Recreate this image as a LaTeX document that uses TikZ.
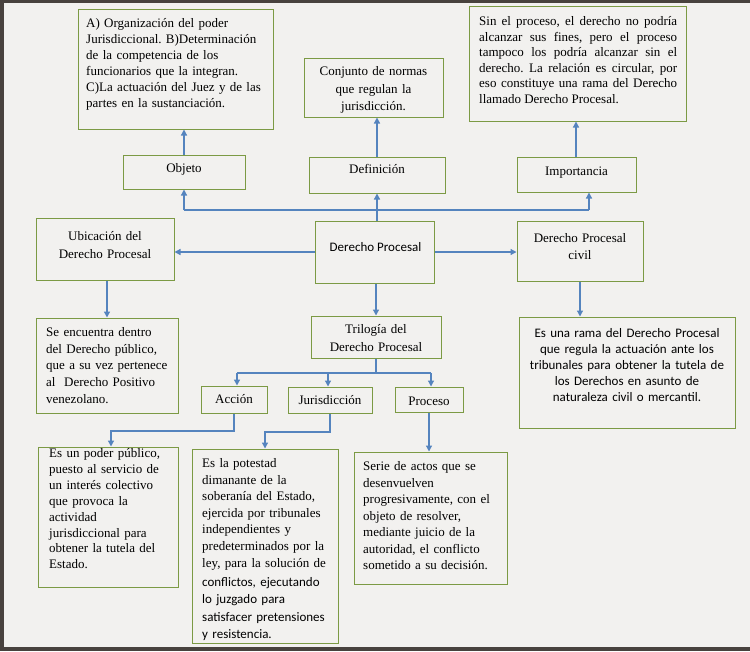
\documentclass[tikz,border=0pt]{standalone}
\usepackage{fontspec}
\setmainfont{Liberation Serif}
\newfontfamily\calib{Carlito}
\usetikzlibrary{arrows.meta}
\definecolor{bgc}{HTML}{F2F1EF}
\definecolor{edge}{HTML}{48423E}
\definecolor{olive}{HTML}{7C9A44}
\definecolor{arrblue}{HTML}{5584BE}
\frenchspacing
\tikzset{
  box/.style={draw=olive, line width=1pt, fill=bgc, inner sep=0pt},
  arr/.style={draw=arrblue, line width=1.3pt, -{Triangle[length=6pt,width=6pt]}},
  ln/.style={draw=arrblue, line width=1.3pt},
  txt/.style={inner sep=0pt, font=\fontsize{13}{16}\selectfont},
}
\begin{document}
\begin{tikzpicture}[x=1pt,y=-1pt]
\useasboundingbox (0,0) rectangle (750,651);
\fill[bgc] (0,0) rectangle (750,651);
\fill[edge] (0,0) rectangle (750,3);
\fill[edge] (0,0) rectangle (4,651);
\fill[edge] (0,647) rectangle (750,651);

% boxes
\node[box, minimum width=195pt, minimum height=120pt] (A) at (175.5,69) {};
\node[box, minimum width=139pt, minimum height=59pt] (conj) at (373.5,87.5) {};
\node[box, minimum width=217pt, minimum height=115pt] (sin) at (577.5,63.5) {};
\node[box, minimum width=122pt, minimum height=34pt] (obj) at (184,172) {};
\node[box, minimum width=136pt, minimum height=36pt] (def) at (377,175) {};
\node[box, minimum width=119pt, minimum height=35pt] (imp) at (576.5,174.5) {};
\node[box, minimum width=138pt, minimum height=62pt] (ubi) at (105,249) {};
\node[box, minimum width=119pt, minimum height=62pt] (dp) at (374.5,252) {};
\node[box, minimum width=126pt, minimum height=60pt] (dpc) at (580,251) {};
\node[box, minimum width=142pt, minimum height=95pt] (enc) at (107,365.5) {};
\node[box, minimum width=130pt, minimum height=42pt] (tri) at (376,337) {};
\node[box, minimum width=66pt, minimum height=27pt] (acc) at (234,399.5) {};
\node[box, minimum width=84pt, minimum height=26pt] (jur) at (330,400) {};
\node[box, minimum width=68pt, minimum height=25pt] (pro) at (429,399.5) {};
\node[box, minimum width=216pt, minimum height=111pt] (rama) at (627,372.5) {};
\node[box, minimum width=140pt, minimum height=140pt] (pod) at (108,517) {};
\node[box, minimum width=146pt, minimum height=194pt] (pot) at (265,546) {};
\node[box, minimum width=153pt, minimum height=132pt] (ser) at (430.5,518) {};

% texts
\node[txt, anchor=base west, text width=190pt, align=left] (tA) at (86,27.5)
 {A) Organización del poder\\ Jurisdiccional. B)Determinación\\ de la competencia de los\\ funcionarios que la integran.\\ C)La actuación del Juez y de las\\ partes en la sustanciación.};
\node[txt, font=\fontsize{13}{17.5}\selectfont, anchor=base, text width=135pt, align=center] (tconj) at (373.5,75.5)
 {Conjunto de normas\\ que regulan la\\ jurisdicción.};
\node[txt, font=\fontsize{13}{15.6}\selectfont, anchor=base west, text width=198pt, align=justify] (tsin) at (479,25.5)
 {Sin el proceso, el derecho no podría \linebreak alcanzar sus fines, pero el proceso \linebreak tampoco los podría alcanzar sin el \linebreak derecho. La relación es circular, por \linebreak eso constituye una rama del Derecho \linebreak llamado Derecho Procesal.};
\node[txt, anchor=base] (tobj) at (184,172.5) {Objeto};
\node[txt, anchor=base] (tdef) at (377,173.5) {Definición};
\node[txt, anchor=base] (timp) at (576.5,175.5) {Importancia};
\node[txt, font=\fontsize{13}{18}\selectfont, anchor=base, text width=130pt, align=center] (tubi) at (105,240.5)
 {Ubicación del\\ Derecho Procesal};
\node[txt, font=\calib\fontsize{13}{16}\selectfont, anchor=base] (tdp) at (375.5,251.5) {Derecho Procesal};
\node[txt, font=\fontsize{13}{17}\selectfont, anchor=base, text width=120pt, align=center] (tdpc) at (580,242.5)
 {Derecho Procesal\\ civil};
\node[txt, font=\fontsize{13}{16.7}\selectfont, anchor=base west, text width=135pt, align=left] (tenc) at (46,336.5)
 {Se encuentra dentro\\ del Derecho público,\\ que a su vez pertenece\\ al \ Derecho Positivo\\ venezolano.};
\node[txt, font=\fontsize{13}{18}\selectfont, anchor=base, text width=125pt, align=center] (ttri) at (376,333.5)
 {Trilogía del\\ Derecho Procesal};
\node[txt, anchor=base] (tacc) at (234,403.5) {Acción};
\node[txt, anchor=base] (tjur) at (330,404.5) {Jurisdicción};
\node[txt, anchor=base] (tpro) at (429,405.5) {Proceso};
\node[txt, font=\calib\fontsize{13}{16}\selectfont, anchor=base, text width=210pt, align=center] (trama) at (627,337.5)
 {Es una rama del Derecho Procesal\\ que regula la actuación ante los\\ tribunales para obtener la tutela de\\ los Derechos en asunto de\\ naturaleza civil o mercantil.};
\node[txt, font=\fontsize{13}{15.9}\selectfont, anchor=base west, text width=130pt, align=left] (tpod) at (49,457.5)
 {Es un poder público,\\ puesto al servicio de\\ un interés colectivo\\ que provoca la\\ actividad\\ jurisdiccional para\\ obtener la tutela del\\ Estado.};
\node[txt, font=\fontsize{13}{16.6}\selectfont, anchor=base west, text width=135pt, align=left] (tpot) at (202,467.5)
 {Es la potestad\\ dimanante de la\\ soberanía del Estado,\\ ejercida por tribunales\\ independientes y\\ predeterminados por la\\ ley, para la solución de};
\node[txt, font=\calib\fontsize{13}{17.3}\selectfont, anchor=base west, text width=135pt, align=left] (tpot2) at (202,586.5)
 {conflictos, ejecutando\\ lo juzgado para\\ satisfacer pretensiones\\ y resistencia.};
\node[txt, font=\fontsize{13}{16.5}\selectfont, anchor=base west, text width=142pt, align=left] (tser) at (363,470.5)
 {Serie de actos que se\\ desenvuelven\\ progresivamente, con el\\ objeto de resolver,\\ mediante juicio de la\\ autoridad, el conflicto\\ sometido a su decisión.};

% connectors
\coordinate (bL) at (184,210);
\coordinate (bR) at (589,210);
\coordinate (ia) at (576,0);
\draw[ln] (bL) -- (bR);
\draw[arr] (bL) -- (obj.south);
\draw[arr] (bR) -- (bR |- imp.south);
\draw[arr] (def.south |- dp.north) -- (def.south);
\draw[arr] (obj.north) -- (obj.north |- A.south);
\draw[arr] (def.north) -- (def.north |- conj.south);
\draw[arr] (ia |- imp.north) -- (ia |- sin.south);
\draw[arr] (dp.west) -- (ubi.east |- dp.west);
\draw[arr] (dp.east) -- (dpc.west |- dp.east);
\draw[arr] (tri.north |- dp.south) -- (tri.north);
\draw[arr] (enc.north |- ubi.south) -- (enc.north);
\draw[arr] (dpc.south) -- (dpc.south |- rama.north);
\coordinate (t1) at (237,373);
\coordinate (t2) at (328,373);
\coordinate (t3) at (431,373);
\draw[ln] (tri.south) -- (tri.south |- t1);
\draw[ln] (t1) -- (t3);
\draw[arr] (t1) -- (t1 |- acc.north);
\draw[arr] (t2) -- (t2 |- jur.north);
\draw[arr] (t3) -- (t3 |- pro.north);
\coordinate (p1) at (111,431);
\coordinate (p2) at (265,432);
\draw[arr] (acc.south) |- (p1) -- (p1 |- pod.north);
\draw[arr] (jur.south) |- (p2) -- (pot.north);
\draw[arr] (pro.south) -- (pro.south |- ser.north);
\end{tikzpicture}
\end{document}
